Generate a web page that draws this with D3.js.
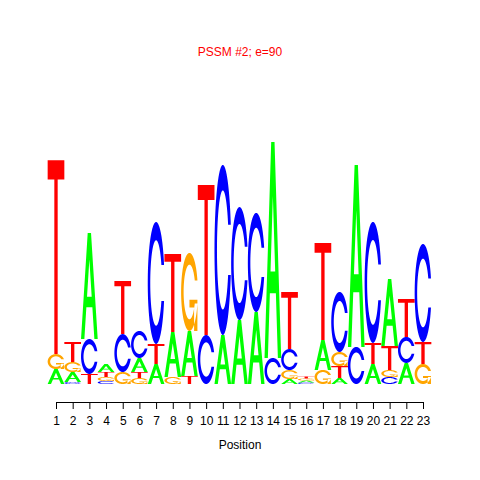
<!DOCTYPE html>
<html><head><meta charset="utf-8">
<script src="https://cdn.jsdelivr.net/npm/d3@7"></script>
<style>body{margin:0;background:#fff}svg{display:block}text{font-family:"Liberation Sans",Arial,Helvetica,sans-serif}</style>
</head><body>
<script>
// Data: information content (bits) per letter at each position
const positions = d3.range(1, 24);
const tickLabels = positions.map(String);
const A = [0.115,0.077,0.815,0.062,0.000,0.108,0.154,0.346,0.346,0.000,0.377,0.492,0.554,1.662,0.038,0.015,0.231,0.046,1.400,0.154,0.515,0.162,0.000];
const C = [0.000,0.015,0.269,0.023,0.292,0.208,0.938,0.000,0.000,0.377,1.308,0.869,0.762,0.200,0.162,0.012,0.000,0.462,0.285,0.931,0.054,0.200,0.754];
const G = [0.115,0.077,0.000,0.031,0.092,0.046,0.000,0.054,0.600,0.000,0.000,0.000,0.000,0.000,0.069,0.015,0.108,0.108,0.000,0.000,0.054,0.000,0.154];
const T = [1.492,0.154,0.077,0.038,0.408,0.046,0.154,0.600,0.062,1.154,0.000,0.000,0.000,0.000,0.438,0.015,0.746,0.092,0.000,0.162,0.185,0.292,0.169];
const title = "PSSM #2; e=90";
const xTitle = "Position";

const colors = {A:"#00FF00", C:"#0000FF", G:"#FFA500", T:"#FF0000"};

const W = 480, H = 480;
const svg = d3.select("body").append("svg").attr("width", W).attr("height", H);

const x = d3.scaleLinear().domain([1, 23]).range([56, 423]);
const y = d3.scaleLinear().domain([0, 2]).range([384, 124]);

// Letter shapes in unit square (x right, y up), after seqLogo
function seq(a, b, n){ const r=[]; for(let i=0;i<n;i++) r.push(a+(b-a)*i/(n-1)); return r; }
function ringPoly(){
  const a1 = seq(0.3+Math.PI/2, Math.PI, 100), a2 = seq(Math.PI, 1.5*Math.PI, 100);
  const xl1 = a1.map(a=>0.5+0.5*Math.sin(a)), yl1 = a1.map(a=>0.5+0.5*Math.cos(a));
  const xl2 = a2.map(a=>0.5+0.5*Math.sin(a)), yl2 = a2.map(a=>0.5+0.5*Math.cos(a));
  const xl = xl1.concat(xl2), yl = yl1.concat(yl2);
  const xo = xl.concat(xl.slice().reverse());
  const yo = yl.concat(yl.slice().reverse().map(v=>1-v));
  const maxY = Math.max(...yl1);
  let xi1 = a1.map(a=>0.5+0.35*Math.sin(a)), yi1 = a1.map(a=>0.5+0.35*Math.cos(a));
  const keep = yi1.map(v=>v<=maxY);
  xi1 = xi1.filter((v,i)=>keep[i]); yi1 = yi1.filter((v,i)=>keep[i]);
  yi1[0] = maxY;
  const xi2 = a2.map(a=>0.5+0.35*Math.sin(a)), yi2 = a2.map(a=>0.5+0.35*Math.cos(a));
  const xi = xi1.concat(xi2), yi = yi1.concat(yi2);
  const x1 = xi.concat(xi.slice().reverse());
  const y1 = yi.concat(yi.slice().reverse().map(v=>1-v));
  const X = xo.concat(x1.slice().reverse()), Y = yo.concat(y1.slice().reverse());
  return {pts: X.map((v,i)=>[v, Y[i]]), r1: Math.max(...xl1)};
}
const ring = ringPoly();
const shapes = {
  A: [[[0,0],[0.4,1],[0.6,1],[1,0],[0.8,0],[0.68,0.3],[0.32,0.3],[0.2,0],[0,0]],
      [[0.36,0.4],[0.5,0.75],[0.64,0.4],[0.36,0.4]]],
  T: [[[0,1],[1,1],[1,0.9],[0.6,0.9],[0.6,0],[0.4,0],[0.4,0.9],[0,0.9]]],
  C: [ring.pts],
  G: [ring.pts, [[ring.r1,0.4],[0.5,0.4],[0.5,0.3],[ring.r1-0.2,0.3],[ring.r1-0.2,0],[ring.r1,0],[ring.r1,0.4]]]
};
function letterPath(letter, x0, w, yb, h){
  return shapes[letter].map(poly =>
    "M" + poly.map(([u,v]) => (x0+u*w).toFixed(2)+","+(yb-v*h).toFixed(2)).join("L") + "Z"
  ).join("");
}

const data = {A, C, G, T};
const letters = ["A","C","G","T"];
const g = svg.append("g");
positions.forEach((p, i) => {
  const stack = letters.map(l => ({l, v: data[l][i]})).filter(d => d.v > 0)
    .sort((a, b) => a.v - b.v);
  let cum = 0;
  const x0 = x(p - 0.5), w = x(p + 0.5) - x(p - 0.5);
  stack.forEach(d => {
    const yb = y(cum), h = y(0) - y(d.v);
    g.append("path").attr("d", letterPath(d.l, x0, w, yb, h))
      .attr("fill", colors[d.l]).attr("fill-rule", "evenodd");
    cum += d.v;
  });
});

// x axis
const axis = d3.axisBottom(x).tickValues(positions).tickFormat((d,i)=>tickLabels[i]).tickSize(7).tickPadding(7);
const ax = svg.append("g").attr("transform", "translate(0,402)").call(axis);
ax.select(".domain").attr("stroke", "#000").attr("d", "M56.5,0.5H423.5");
ax.selectAll(".tick line").attr("stroke", "#000");
ax.selectAll("text").attr("font-size", 12).attr("fill", "#000")
  .attr("font-family", '"Liberation Sans",Arial,sans-serif');

svg.append("text").attr("x", 240).attr("y", 449).attr("text-anchor", "middle")
  .attr("font-size", 12).attr("fill", "#000").text(xTitle);
svg.append("text").attr("x", 240).attr("y", 56).attr("text-anchor", "middle")
  .attr("font-size", 12).attr("fill", "#FF0000").text(title);
</script>
</body></html>
